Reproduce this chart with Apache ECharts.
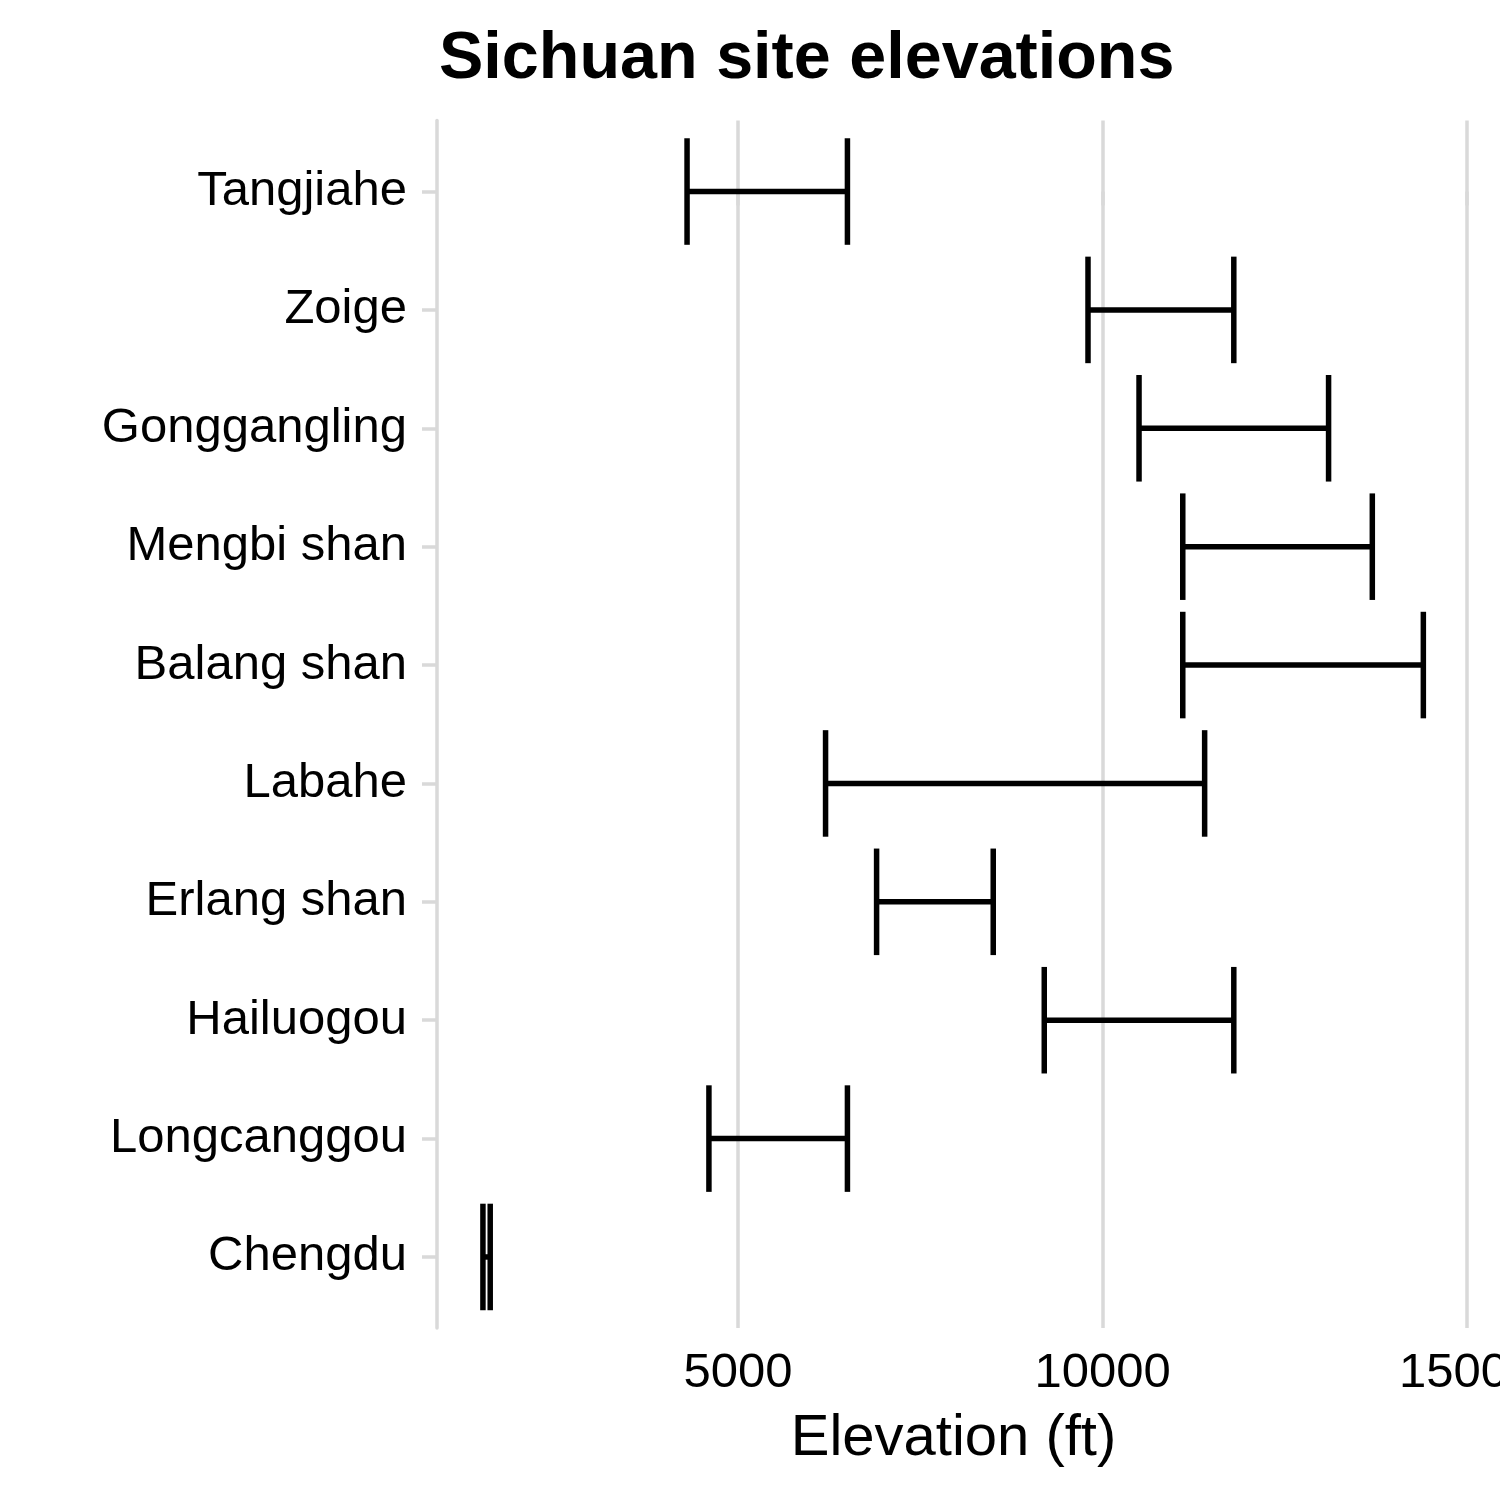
<!DOCTYPE html>
<html>
<head>
<meta charset="utf-8">
<script src="https://cdn.jsdelivr.net/npm/echarts@6/dist/echarts.min.js"></script>
<style>
  html, body { margin: 0; padding: 0; background: #ffffff; }
  #chart { width: 1500px; height: 1500px; }
</style>
</head>
<body>
<div id="chart"></div>
<script>
// ---- data ----
const sites = ['Tangjiahe', 'Zoige', 'Gonggangling', 'Mengbi shan', 'Balang shan',
               'Labahe', 'Erlang shan', 'Hailuogou', 'Longcanggou', 'Chengdu'];
const lowElev  = [4300, 9800, 10500, 11100, 11100, 6200, 6900, 9200, 4600, 1500];
const highElev = [6500, 11800, 13100, 13700, 14400, 11400, 8500, 11800, 6500, 1600];
const xTicks = [5000, 10000, 15000];

const siteIndex = sites.map((s, i) => i);
const barData = sites.map((s, i) => [i, lowElev[i], highElev[i]]);

const FONT = '"Liberation Sans", Arial, Helvetica, sans-serif';
const GRID_COLOR = '#d9d9d9';

const chart = echarts.init(document.getElementById('chart'), null, { renderer: 'canvas' });

chart.setOption({
  animation: false,
  backgroundColor: '#ffffff',
  title: {
    text: 'Sichuan site elevations',
    left: 434,
    top: 21,
    textStyle: { fontFamily: FONT, fontSize: 66.5, fontWeight: 'bold', color: '#000000' }
  },
  grid: { left: 437, right: 30, top: 120.5, bottom: 172, containLabel: false, outerBoundsMode: 'none' },
  xAxis: {
    type: 'value',
    min: 870,
    max: 15040,
    name: 'Elevation (ft)',
    nameLocation: 'middle',
    nameGap: 82,
    nameTextStyle: { fontFamily: FONT, fontSize: 58, color: '#000000' },
    axisLine: { show: false },
    axisTick: { show: true, customValues: xTicks, length: 14, lineStyle: { color: GRID_COLOR, width: 3.5 } },
    axisLabel: {
      customValues: xTicks,
      formatter: v => String(v),
      hideOverlap: false,
      fontFamily: FONT, fontSize: 49, color: '#000000', margin: 21
    },
    splitLine: { show: true, lineStyle: { color: GRID_COLOR, width: 3.5 } }
  },
  yAxis: {
    type: 'value',
    inverse: true,
    min: -0.6,
    max: 9.6,
    axisLine: { show: true, onZero: false, lineStyle: { color: GRID_COLOR, width: 3.5 } },
    axisTick: { show: true, customValues: siteIndex, length: 15, lineStyle: { color: GRID_COLOR, width: 3.5 } },
    axisLabel: {
      customValues: siteIndex,
      formatter: v => sites[Math.round(v)],
      padding: [6, 0, 0, 0],
      fontFamily: FONT, fontSize: 49, color: '#000000', margin: 30
    },
    splitLine: { show: false }
  },
  series: [{
    type: 'custom',
    data: barData,
    encode: { x: [1, 2], y: 0 },
    clip: false,
    renderItem: function (params, api) {
      const idx = api.value(0);
      const lo = api.value(1);
      const hi = api.value(2);
      const pLo = api.coord([lo, idx]);
      const pHi = api.coord([hi, idx]);
      const half = api.size([0, 0.45])[1];
      const style = { stroke: '#000000', lineWidth: 5.5, fill: null };
      return {
        type: 'group',
        children: [
          { type: 'line', shape: { x1: pLo[0], y1: pLo[1], x2: pHi[0], y2: pHi[1] }, style: style },
          { type: 'line', shape: { x1: pLo[0], y1: pLo[1] - half, x2: pLo[0], y2: pLo[1] + half }, style: style },
          { type: 'line', shape: { x1: pHi[0], y1: pHi[1] - half, x2: pHi[0], y2: pHi[1] + half }, style: style }
        ]
      };
    }
  }]
});
</script>
</body>
</html>
